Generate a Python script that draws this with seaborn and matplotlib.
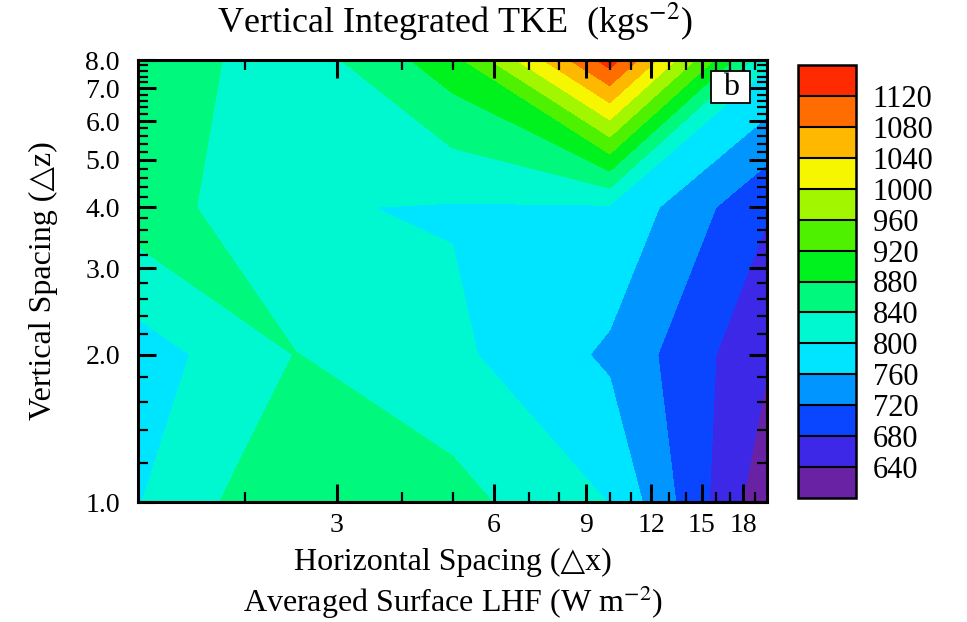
import numpy as np
import matplotlib
matplotlib.use("Agg")
import matplotlib.pyplot as plt
import matplotlib.tri as mtri
from matplotlib.colors import ListedColormap, BoundaryNorm
from matplotlib.patches import Rectangle
import seaborn as sns

# ---- data ----
x_spacing = [1.25, 2.5, 5, 10, 20]          # horizontal grid nodes
z_spacing = [1, 2, 4, 8]                      # vertical grid nodes
tke_z1 = [798, 879, 854, 799, 611]
tke_z2 = [780, 841, 809, 753, 645]
tke_z4 = [862, 803, 797, 795, 684]
tke_z8 = [870, 814, 904, 1140, 808]
levels = list(range(600, 1161, 40))
cbar_ticks = list(range(640, 1121, 40))
x_ticks = [3, 6, 9, 12, 15, 18]
x_minor = [2, 4, 5, 7, 8, 10, 11, 13, 14, 16, 17, 19]
y_ticks = [1.0, 2.0, 3.0, 4.0, 5.0, 6.0, 7.0, 8.0]
level_colors = ['#6A22A5', '#3C28E6', '#0A46FF', '#0095FF', '#00E5FF',
                '#00F8D0', '#00F87C', '#00F21E', '#4EF200', '#A2F600',
                '#F6F600', '#FFB800', '#FF6C00', '#FF2A00']

sns.set_theme(style="ticks")
plt.rcParams['font.family'] = ['Liberation Serif', 'DejaVu Sans']
plt.rcParams['mathtext.fontset'] = 'stix'

fig = plt.figure(figsize=(9.67, 6.22), dpi=100)
ax = fig.add_axes([138 / 967, 1 - 502 / 622, 629 / 967, 442 / 622])
ax.set_axisbelow(False)

Z = np.array([tke_z1, tke_z2, tke_z4, tke_z8], dtype=float)
X, Y = np.meshgrid(np.log10(x_spacing), np.log10(z_spacing))
cmap = ListedColormap(level_colors)
norm = BoundaryNorm(levels, cmap.N)
cs = ax.contourf(X, Y, Z, levels=levels, cmap=cmap, norm=norm, zorder=1)

# saddle cells: split along the diagonal joining the higher pair
ny, nx = Z.shape
tris = []
for j in range(ny - 1):
    for i in range(nx - 1):
        bl, br, tl, tr = Z[j, i], Z[j, i + 1], Z[j + 1, i], Z[j + 1, i + 1]
        saddle = any((min(bl, tr) > L > max(tl, br)) or (min(tl, br) > L > max(bl, tr))
                     for L in levels)
        if saddle:
            a, b, c, d = j * nx + i, j * nx + i + 1, (j + 1) * nx + i, (j + 1) * nx + i + 1
            if tl + br >= bl + tr:
                tris += [[c, a, b], [c, b, d]]
            else:
                tris += [[a, b, d], [a, d, c]]
if tris:
    tri = mtri.Triangulation(X.ravel(), Y.ravel(), tris)
    ax.tricontourf(tri, Z.ravel(), levels=levels, cmap=cmap, norm=norm, zorder=1.1)

ax.set_xlim(np.log10(x_spacing[0]), np.log10(x_spacing[-1]))
ax.set_ylim(np.log10(z_spacing[0]), np.log10(z_spacing[-1]))
ax.set_xticks(np.log10(x_ticks))
ax.set_xticklabels([str(v) for v in x_ticks])
ax.set_xticks(np.log10(x_minor), minor=True)
ax.set_yticks(np.log10(y_ticks))
ax.set_yticklabels([f"{v:.1f}" for v in y_ticks])
y_minor = [v for v in np.round(np.arange(1.0, 8.0, 0.2), 1) if abs(v - round(v)) > 1e-6]
ax.set_yticks(np.log10(y_minor), minor=True)
ax.tick_params(which='major', direction='in', top=True, right=True, length=13, width=2.2,
               labelsize=20, color='black', labelcolor='black')
ax.tick_params(which='minor', direction='in', top=True, right=True, length=7, width=1.6,
               color='black')
ax.tick_params(axis='y', which='major', pad=13)
ax.tick_params(axis='x', which='major', pad=8)
for s in ax.spines.values():
    s.set_linewidth(2.2)
    s.set_color('black')
    s.set_zorder(5)

ax.set_xlabel("Horizontal Spacing (△x)\nAveraged Surface LHF (W m$^{-2}$)",
              fontsize=23, linespacing=1.22, labelpad=7, color='black')
ax.set_ylabel("Vertical Spacing (△z)", fontsize=23, labelpad=20, color='black')
fig.text(455 / 967, 1 - 22 / 622, "Vertical Integrated TKE  (kgs$^{-2}$)",
         ha='center', va='center', fontsize=26, color='black')

ax.add_patch(Rectangle((0.911, 0.903), 0.062, 0.072, transform=ax.transAxes,
                       facecolor='white', edgecolor='black', lw=1.3, zorder=6))
ax.text(0.942, 0.937, 'b', transform=ax.transAxes, ha='center', va='center', fontsize=23,
        color='black', zorder=7)

cax = fig.add_axes([798 / 967, 1 - 498 / 622, 58 / 967, 433 / 622])
cb = fig.colorbar(cs, cax=cax, ticks=cbar_ticks, drawedges=True)
cb.outline.set_linewidth(1.8)
cb.outline.set_edgecolor('black')
cb.dividers.set_color('black')
cb.dividers.set_linewidth(1.5)
cax.tick_params(length=0, pad=12, labelsize=22, labelcolor='black')
cax.minorticks_off()

fig.savefig("out.png", dpi=100)
